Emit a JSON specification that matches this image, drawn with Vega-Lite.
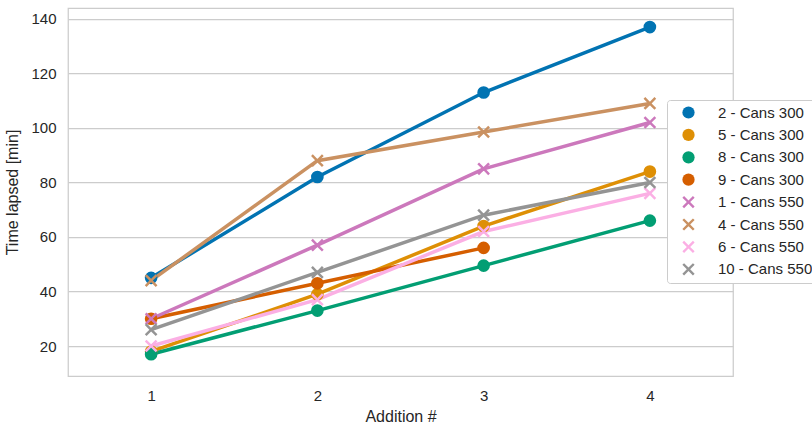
{
  "$schema": "https://vega.github.io/schema/vega-lite/v6.json",
  "autosize": {"type": "none"},
  "width": 665,
  "height": 368,
  "padding": {"left": 68, "top": 8, "right": 79, "bottom": 50},
  "background": "white",
  "config": {
    "font": "Liberation Sans",
    "view": {"stroke": "#cccccc", "strokeWidth": 1.25},
    "axis": {"labelFont": "Liberation Sans", "titleFont": "Liberation Sans", "labelColor": "#262626", "titleColor": "#262626", "titleFontWeight": "normal"},
    "legend": {
      "orient": "none", "legendX": 599, "legendY": 92,
      "fillColor": "white", "strokeColor": "#cccccc", "cornerRadius": 3, "padding": 5,
      "labelFontSize": 15, "labelColor": "#262626", "labelFont": "Liberation Sans",
      "symbolSize": 150, "symbolOpacity": 1, "symbolStrokeWidth": 0, "symbolOffset": 9, "rowPadding": 6.4, "labelOffset": 22, "offset": 0
    }
  },
  "data": {
    "values": [
      {"series": "2 - Cans 300", "addition": "1", "time": 45},
      {"series": "2 - Cans 300", "addition": "2", "time": 82},
      {"series": "2 - Cans 300", "addition": "3", "time": 113},
      {"series": "2 - Cans 300", "addition": "4", "time": 137},
      {"series": "5 - Cans 300", "addition": "1", "time": 18},
      {"series": "5 - Cans 300", "addition": "2", "time": 39},
      {"series": "5 - Cans 300", "addition": "3", "time": 64},
      {"series": "5 - Cans 300", "addition": "4", "time": 84},
      {"series": "8 - Cans 300", "addition": "1", "time": 17},
      {"series": "8 - Cans 300", "addition": "2", "time": 33},
      {"series": "8 - Cans 300", "addition": "3", "time": 49.5},
      {"series": "8 - Cans 300", "addition": "4", "time": 66},
      {"series": "9 - Cans 300", "addition": "1", "time": 30},
      {"series": "9 - Cans 300", "addition": "2", "time": 43},
      {"series": "9 - Cans 300", "addition": "3", "time": 56},
      {"series": "1 - Cans 550", "addition": "1", "time": 30},
      {"series": "1 - Cans 550", "addition": "2", "time": 57},
      {"series": "1 - Cans 550", "addition": "3", "time": 85},
      {"series": "1 - Cans 550", "addition": "4", "time": 102},
      {"series": "4 - Cans 550", "addition": "1", "time": 44},
      {"series": "4 - Cans 550", "addition": "2", "time": 88},
      {"series": "4 - Cans 550", "addition": "3", "time": 98.5},
      {"series": "4 - Cans 550", "addition": "4", "time": 109},
      {"series": "6 - Cans 550", "addition": "1", "time": 20},
      {"series": "6 - Cans 550", "addition": "2", "time": 37},
      {"series": "6 - Cans 550", "addition": "3", "time": 62},
      {"series": "6 - Cans 550", "addition": "4", "time": 76},
      {"series": "10 - Cans 550", "addition": "1", "time": 26},
      {"series": "10 - Cans 550", "addition": "2", "time": 47},
      {"series": "10 - Cans 550", "addition": "3", "time": 68},
      {"series": "10 - Cans 550", "addition": "4", "time": 80}
    ]
  },
  "encoding": {
    "x": {
      "field": "addition", "type": "ordinal",
      "scale": {"type": "point", "padding": 0.5},
      "axis": {"title": "Addition #", "labelAngle": 0, "ticks": false, "domain": false, "grid": false, "labelPadding": 12, "labelFontSize": 15, "titleFontSize": 16, "titlePadding": 5}
    },
    "y": {
      "field": "time", "type": "quantitative",
      "scale": {"domain": [9, 144], "nice": false, "zero": false},
      "axis": {"title": "Time lapsed [min]", "values": [20, 40, 60, 80, 100, 120, 140], "ticks": false, "domain": false, "grid": true, "gridColor": "#cccccc", "gridWidth": 1.25, "labelPadding": 12, "labelFontSize": 15, "titleFontSize": 16, "titlePadding": 10}
    },
    "color": {
      "field": "series", "type": "nominal", "title": null,
      "scale": {
        "domain": ["2 - Cans 300", "5 - Cans 300", "8 - Cans 300", "9 - Cans 300", "1 - Cans 550", "4 - Cans 550", "6 - Cans 550", "10 - Cans 550"],
        "range": ["#0173b2", "#de8f05", "#029e73", "#d55e00", "#cc78bc", "#ca9161", "#fbafe4", "#949494"]
      }
    }
  },
  "layer": [
    {
      "mark": {"type": "line", "strokeWidth": 3.5}
    },
    {
      "mark": {"type": "point", "filled": true, "opacity": 1, "size": 160},
      "encoding": {
        "shape": {
          "field": "series", "type": "nominal", "title": null,
          "scale": {
            "domain": ["2 - Cans 300", "5 - Cans 300", "8 - Cans 300", "9 - Cans 300", "1 - Cans 550", "4 - Cans 550", "6 - Cans 550", "10 - Cans 550"],
            "range": ["circle", "circle", "circle", "circle",
              "M-0.724,-1L0,-0.276L0.724,-1L1,-0.724L0.276,0L1,0.724L0.724,1L0,0.276L-0.724,1L-1,0.724L-0.276,0L-1,-0.724Z",
              "M-0.724,-1L0,-0.276L0.724,-1L1,-0.724L0.276,0L1,0.724L0.724,1L0,0.276L-0.724,1L-1,0.724L-0.276,0L-1,-0.724Z",
              "M-0.724,-1L0,-0.276L0.724,-1L1,-0.724L0.276,0L1,0.724L0.724,1L0,0.276L-0.724,1L-1,0.724L-0.276,0L-1,-0.724Z",
              "M-0.724,-1L0,-0.276L0.724,-1L1,-0.724L0.276,0L1,0.724L0.724,1L0,0.276L-0.724,1L-1,0.724L-0.276,0L-1,-0.724Z"]
          }
        }
      }
    }
  ]
}
